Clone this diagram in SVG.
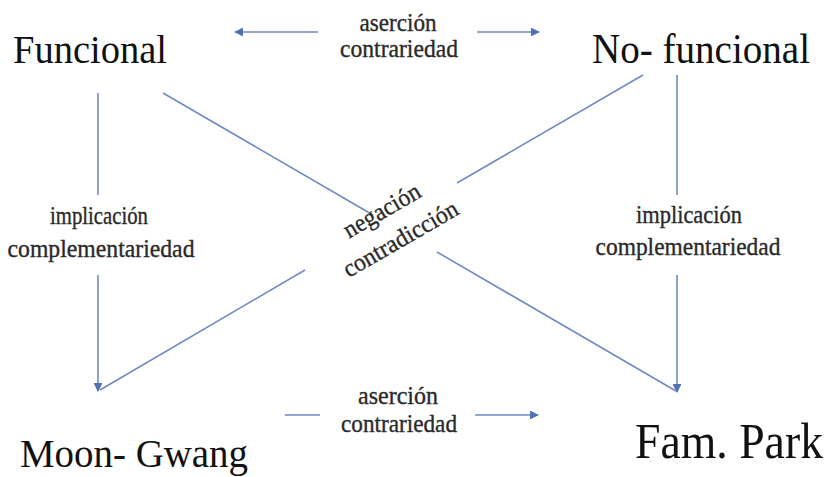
<svg xmlns="http://www.w3.org/2000/svg" width="827" height="477" viewBox="0 0 827 477">
<defs>
<style>
text{font-family:"Liberation Serif","DejaVu Serif",serif;}
.node{fill:#111;}
.lbl{fill:#2a2a2a;font-size:25px;text-anchor:middle;stroke:#2a2a2a;stroke-width:0.35;}
.ln{stroke:#6e8bc4;stroke-width:1.6;fill:none;}
.arr{marker-end:url(#ah);}
</style>
<marker id="ah" viewBox="0 0 10 10" refX="9" refY="5" markerWidth="5.5" markerHeight="5.5" markerUnits="strokeWidth" orient="auto">
<path d="M0,0 L10,5 L0,10 z" fill="#4d72b3"/>
</marker>
</defs>
<rect width="827" height="477" fill="#fff"/>
<g id="connectors">
<line class="ln arr" x1="318" y1="32" x2="235" y2="32"/>
<line class="ln arr" x1="477" y1="32" x2="539" y2="32"/>
<line class="ln" x1="285" y1="415" x2="320" y2="415"/>
<line class="ln arr" x1="475" y1="415" x2="538" y2="415"/>
<line class="ln" x1="98" y1="93" x2="98" y2="195"/>
<line class="ln arr" x1="98" y1="275" x2="98" y2="391"/>
<line class="ln" x1="677" y1="75" x2="677" y2="195"/>
<line class="ln arr" x1="677" y1="275" x2="677" y2="392"/>
<line class="ln" x1="163" y1="93" x2="373" y2="215"/>
<line class="ln" x1="437" y1="252" x2="676" y2="391"/>
<line class="ln" x1="643" y1="75" x2="457" y2="183"/>
<line class="ln" x1="305" y1="270" x2="100" y2="390"/>
</g>
<g id="edge-labels">
<text class="lbl" font-family="Liberation Serif, serif" x="398" y="31" textLength="77" lengthAdjust="spacingAndGlyphs">aserción</text>
<text class="lbl" font-family="Liberation Serif, serif" x="399" y="57" textLength="118" lengthAdjust="spacingAndGlyphs">contrariedad</text>
<text class="lbl" font-family="Liberation Serif, serif" x="398" y="404" textLength="80" lengthAdjust="spacingAndGlyphs">aserción</text>
<text class="lbl" font-family="Liberation Serif, serif" x="399" y="432" textLength="116" lengthAdjust="spacingAndGlyphs">contrariedad</text>
<text class="lbl" font-family="Liberation Serif, serif" x="99" y="224" textLength="98" lengthAdjust="spacingAndGlyphs">implicación</text>
<text class="lbl" font-family="Liberation Serif, serif" x="101" y="257" textLength="187" lengthAdjust="spacingAndGlyphs">complementariedad</text>
<text class="lbl" font-family="Liberation Serif, serif" x="689" y="223" textLength="106" lengthAdjust="spacingAndGlyphs">implicación</text>
<text class="lbl" font-family="Liberation Serif, serif" x="688" y="255" textLength="185" lengthAdjust="spacingAndGlyphs">complementariedad</text>
<g transform="translate(400,230) rotate(-30)">
<text class="lbl" font-family="Liberation Serif, serif" x="-6" y="-18" textLength="85" lengthAdjust="spacingAndGlyphs">negación</text>
<text class="lbl" font-family="Liberation Serif, serif" x="-4" y="16" textLength="129" lengthAdjust="spacingAndGlyphs">contradicción</text>
</g>
</g>
<g id="node-funcional">
<text class="node" font-family="Liberation Serif, serif" transform="translate(13,63) scale(1,1.12)" font-size="36" textLength="154" lengthAdjust="spacingAndGlyphs">Funcional</text>
</g>
<g id="node-no-funcional">
<text class="node" font-family="Liberation Serif, serif" transform="translate(592,63) scale(1,1.12)" font-size="37" textLength="218" lengthAdjust="spacingAndGlyphs">No- funcional</text>
</g>
<g id="node-moon-gwang">
<text class="node" font-family="Liberation Serif, serif" transform="translate(20,467) scale(1,1.05)" font-size="38" textLength="228" lengthAdjust="spacingAndGlyphs">Moon- Gwang</text>
</g>
<g id="node-fam-park">
<text class="node" font-family="Liberation Serif, serif" transform="translate(635,458) scale(1,1.12)" font-size="46" textLength="188" lengthAdjust="spacingAndGlyphs">Fam. Park</text>
</g>
</svg>
